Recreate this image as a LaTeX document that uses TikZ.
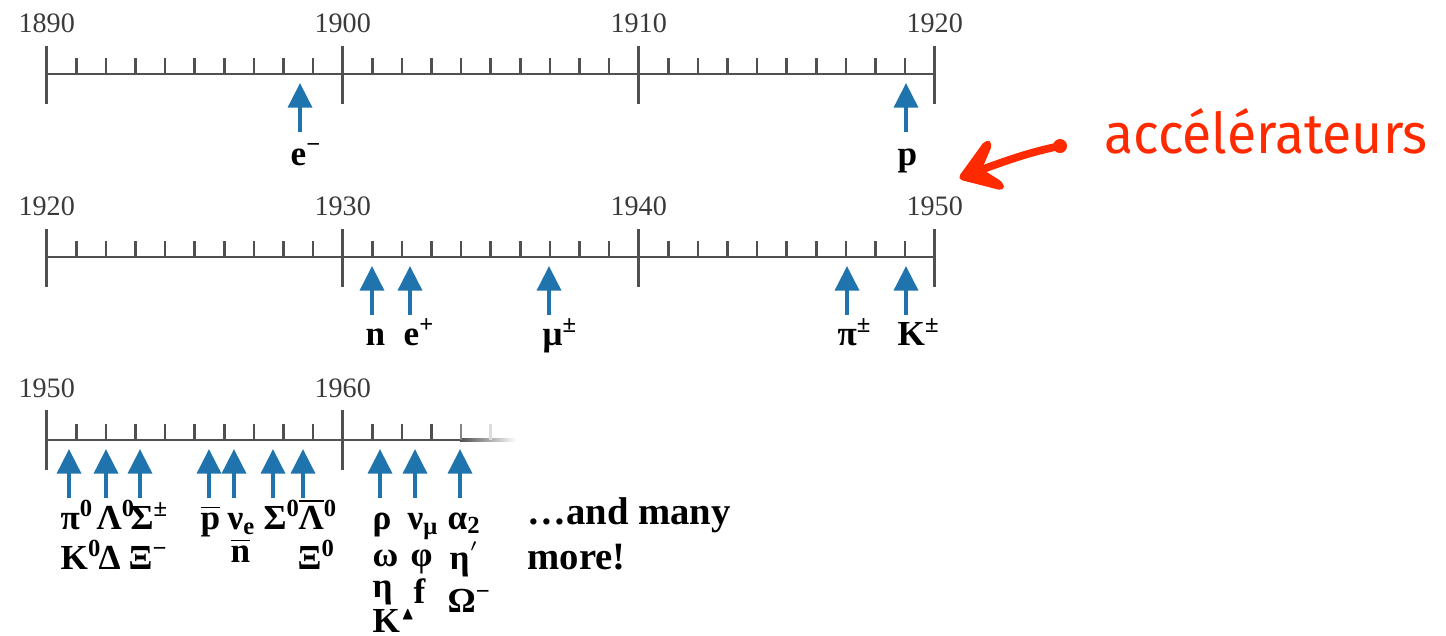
\documentclass[tikz,border=0pt]{standalone}
\usepackage{fontspec}
\usepackage{amssymb}
\setmainfont{Liberation Serif}
\newfontfamily\notefont[FakeStretch=0.95]{Fira Sans}
\usetikzlibrary{arrows.meta,positioning}
\definecolor{TLAxis}{HTML}{505050}
\definecolor{TLYear}{HTML}{3A3A3A}
\definecolor{TLBlue}{HTML}{2074AD}
\definecolor{AccRed}{HTML}{FF2A00}
\newcommand\antiof[1]{$\overline{\hbox{#1}}$}

\begin{document}
\begin{tikzpicture}[
    x=0.01cm, y=-0.01cm,
    axis/.style={
      draw=TLAxis,
      line width=0.7pt
    },
    year/.style={
      font=\fontsize{8}{9}\selectfont,
      text=TLYear,
      inner sep=0pt
    },
    part/.style={
      font=\fontsize{10}{11}\selectfont\bfseries,
      anchor=base west,
      inner sep=0pt
    },
    parr/.style={
      -{Triangle[length=7pt,width=6.8pt]},
      line width=1.1pt,
      draw=TLBlue
    }
  ]
  \useasboundingbox (0,0) rectangle (1446,635);

  % Timelines 1890--1920 and 1920--1950
  \foreach \ly/\first in {74/1890, 257/1920} {
    \draw[axis] (46.7,\ly) -- (934.7,\ly);
    \foreach \i in {1,...,29}
      \draw[axis] (46.7+\i*29.6,\ly) -- ++(0,-16);
    \foreach \k in {0,...,3} {
      \pgfmathtruncatemacro\yr{\first+10*\k}
      \draw[axis] (46.7+\k*296,\ly-28) -- ++(0,58);
      \node[year] (yr\yr-\ly) at (46.7+\k*296,\ly-51) {\yr};
    }
  }

  % Timeline 1950--, fading out
  \draw[axis] (46.7,440) -- (462,440);
  \shade[left color=TLAxis, right color=white] (460,438.8) rectangle (516,441.2);
  \foreach \i in {1,...,13}
    \draw[axis] (46.7+\i*29.6,440) -- ++(0,-16);
  \draw[axis, draw=TLAxis!70] (46.7+14*29.6,440) -- ++(0,-16);
  \draw[axis, draw=TLAxis!20] (46.7+15*29.6,440) -- ++(0,-16);
  \foreach \k/\yr in {0/1950, 1/1960} {
    \draw[axis] (46.7+\k*296,410) -- ++(0,60);
    \node[year] (yr\yr-440) at (46.7+\k*296,388) {\yr};
  }

  % Discovery arrows
  \foreach \x/\ly/\nm in {300/74/em, 906/74/p,
                          372/257/n, 410/257/ep, 549/257/mu, 847/257/pi, 906/257/K,
                          69/440/c1, 106/440/c2, 140/440/c3, 209/440/c4, 234/440/c5,
                          273/440/c6, 303/440/c7, 380/440/c8, 415/440/c9, 460/440/c10} {
    \coordinate (tip-\nm)  at (\x,\ly+9);
    \coordinate (tail-\nm) at (\x,\ly+58);
    \draw[parr] (tail-\nm) -- (tip-\nm);
  }

  % Particles
  \node[part] (lem) at (290,165) {e\textsuperscript{−}};
  \node[part] (lp)  at (897,165) {p};
  \node[part] (ln)  at (365,345) {n};
  \node[part] (lep) at (403,345) {e\textsuperscript{+}};
  \node[part] (lmu) at (542,345) {μ\textsuperscript{±}};
  \node[part] (lpi) at (837,345) {π\textsuperscript{±}};
  \node[part] (lK)  at (897,345) {K\textsuperscript{±}};

  \foreach \x/\y/\t [count=\j] in {
      60/529/{π\textsuperscript{0}}, 60/569/{K\textsuperscript{0}},
      96/529/{Λ\textsuperscript{0}}, 98/569/{Δ},
      130/529/{Σ\textsuperscript{±}}, 128/569/{Ξ\textsuperscript{−}},
      200/529/{\antiof{p}},
      227/529/{ν\textsubscript{e}}, 230/562/{\antiof{n}},
      263/529/{Σ\textsuperscript{0}},
      298/529/{\antiof{Λ}\textsuperscript{0}}, 297/569/{Ξ\textsuperscript{0}},
      372/529/{ρ}, 372/566/{ω}, 372/597/{η}, 372/632/{K$^{\scriptscriptstyle\blacktriangle}$},
      407/529/{ν\textsubscript{μ}}, 410/566/{φ}, 413/603/{f},
      447/529/{α{\fontsize{7}{7}\selectfont\raisebox{-1.2pt}{2}}},
      449/569/{η\raisebox{3pt}{\fontsize{5}{5}\selectfont$'$}},
      447/612/{Ω\textsuperscript{−}}}
    \node[part] (lc\j) at (\x,\y) {\t};

  \node[font=\fontsize{11}{12.8}\selectfont\bfseries, align=left, anchor=north west,
        inner sep=0pt] (more) at (527,497) {…and many\\more!};

  % Accelerators note
  \node[font=\notefont\fontsize{16}{18}\selectfont, text=AccRed, anchor=base west,
        inner sep=0pt] (acc) at (1104,153) {accélérateurs};
  \coordinate (accTail) at (1060,146);
  \coordinate (accTip)  at (957,179);
  \draw[AccRed, line width=2.2pt, line cap=round]
    (accTail) .. controls (1030,152) and (1005,161) .. (978,171);
  \fill[AccRed] (accTail) circle (7);
  \fill[AccRed, rounded corners=1.5] (accTip) -- (986,139) -- (993,143)
    -- (982,169) -- (1004,183) -- (1004,191) -- cycle;

\end{tikzpicture}
\end{document}
